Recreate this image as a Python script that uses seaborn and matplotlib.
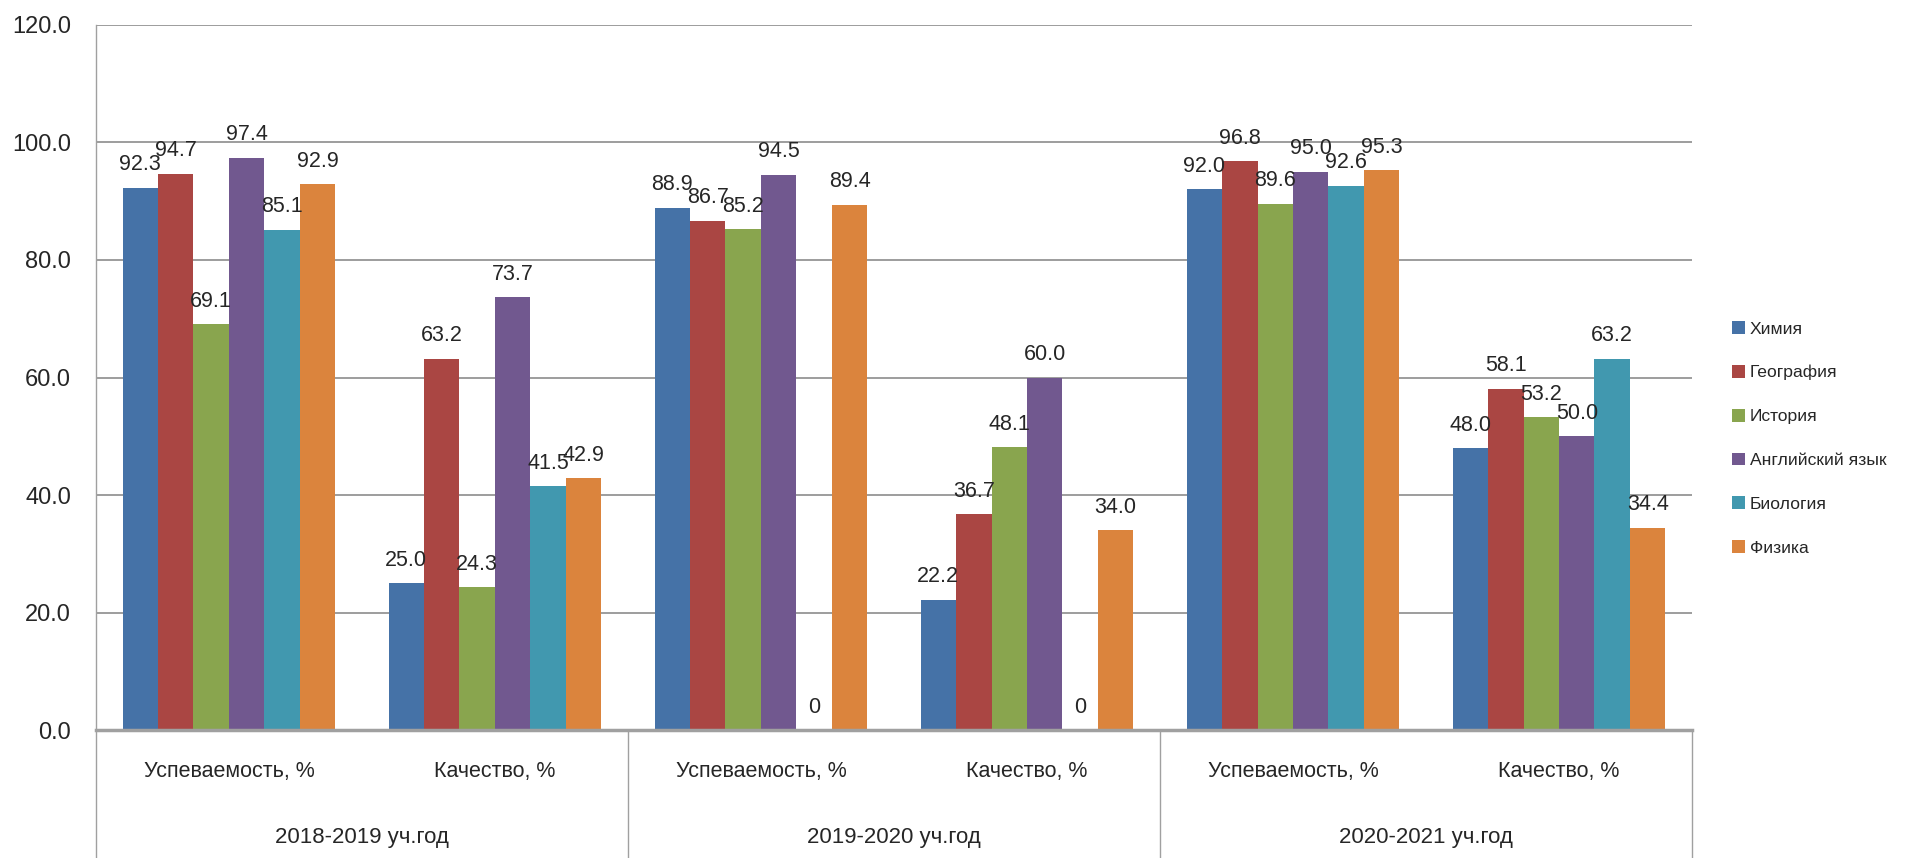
import numpy as np
import pandas as pd
import seaborn as sns
import matplotlib.pyplot as plt
import matplotlib.transforms as mtransforms

years = ['2018-2019 уч.год', '2019-2020 уч.год', '2020-2021 уч.год']
metrics = ['Успеваемость, %', 'Качество, %']
subjects = ['Химия', 'География', 'История', 'Английский язык', 'Биология', 'Физика']
colors = ['#4572A7', '#AA4643', '#89A54E', '#71588F', '#4198AF', '#DB843D']

# values per subject, in order: 2018-19 (усп, кач), 2019-20 (усп, кач), 2020-21 (усп, кач)
himiya = [92.3, 25.0, 88.9, 22.2, 92.0, 48.0]
geografiya = [94.7, 63.2, 86.7, 36.7, 96.8, 58.1]
istoriya = [69.1, 24.3, 85.2, 48.1, 89.6, 53.2]
angliyskiy = [97.4, 73.7, 94.5, 60.0, 95.0, 50.0]
biologiya = [85.1, 41.5, 0, 0, 92.6, 63.2]
fizika = [92.9, 42.9, 89.4, 34.0, 95.3, 34.4]

series = [himiya, geografiya, istoriya, angliyskiy, biologiya, fizika]
keys = [y + ' | ' + m for y in years for m in metrics]

rows = []
for subj, vals in zip(subjects, series):
    for k, v in zip(keys, vals):
        rows.append({'key': k, 'subject': subj, 'value': v})
df = pd.DataFrame(rows)

sns.set_style('white')
plt.rcParams['font.family'] = ['Liberation Sans', 'DejaVu Sans']

fig = plt.figure(figsize=(19.3, 8.58), dpi=100)
ax = fig.add_axes([0.0497, 0.149, 0.827, 0.822])

sns.barplot(data=df, x='key', y='value', hue='subject', order=keys, hue_order=subjects,
            palette=colors, width=0.80, saturation=1, linewidth=0, ax=ax)

for cont, vals in zip(ax.containers, series):
    labels = ['0' if v == 0 else f'{v:.1f}' for v in vals]
    ax.bar_label(cont, labels=labels, padding=9, fontsize=15.5)

ax.set_ylim(0, 120)
ax.set_xlim(-0.5, 5.5)
ax.set_yticks(np.arange(0, 121, 20))
ax.set_yticklabels([f'{t:.1f}' for t in np.arange(0, 121, 20)], fontsize=17)
ax.yaxis.grid(True, color='#8c8c8c', linewidth=1.2)
ax.set_axisbelow(True)
ax.tick_params(axis='y', length=0, pad=18)

ax.set_xticks(range(6))
ax.set_xticklabels(metrics * 3, fontsize=15.5)
ax.tick_params(axis='x', length=0, pad=22)
ax.set_xlabel('')
ax.set_ylabel('')

for s in ['top', 'right']:
    ax.spines[s].set_visible(False)
ax.spines['left'].set_color('#a0a0a0')
ax.spines['left'].set_linewidth(1)
ax.spines['bottom'].set_color('#a0a0a0')
ax.spines['bottom'].set_linewidth(2.5)

trans = mtransforms.blended_transform_factory(ax.transData, ax.transAxes)
for b in [-0.5, 1.5, 3.5, 5.5]:
    ax.plot([b, b], [0, -0.19], transform=trans, color='#a0a0a0', linewidth=1, clip_on=False)
for i, y in enumerate(years):
    ax.text(2 * i + 0.5, -0.152, y, transform=trans, ha='center', va='center', fontsize=16)

handles, labels = ax.get_legend_handles_labels()
ax.legend_.remove()
fig.legend(handles, labels, loc='center left', bbox_to_anchor=(0.889, 0.489), frameon=False,
           fontsize=12.6, labelspacing=1.62, handlelength=0.75, handleheight=0.75, handletextpad=0.3)

fig.savefig('out.png', dpi=100)
